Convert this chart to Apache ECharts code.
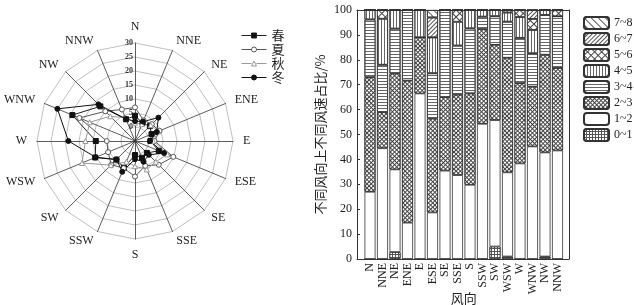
<!DOCTYPE html>
<html><head><meta charset="utf-8">
<script src="https://cdn.jsdelivr.net/npm/echarts@6/dist/echarts.min.js"></script>
<style>html,body{margin:0;padding:0;background:#fff}#c{width:634px;height:305px}</style>
</head><body><div id="c"></div>
<script>
// ---------- data ----------
const directions = ['N','NNE','NE','ENE','E','ESE','SE','SSE','S','SSW','SW','WSW','W','WNW','NW','NNW'];
const seasons = ['春','夏','秋','冬'];
// radar values (frequency, %), order N..NNW
const spring = [4.0, 2.0, 2.5, 1.4, 0.5, 4.2, 1.0, 1.5, 0.0, 5.3, 4.4, 10.4, 9.0, 19.2, 12.5, 3.4];
const summer = [7.0, 3.0, 3.5, 4.5, 2.0, 9.8, 7.0, 4.6, 7.7, 5.5, 7.0, 5.4, 5.1, 16.5, 10.0, 7.2];
const autumn = [1.5, 1.5, 3.0, 4.0, 1.5, 7.5, 5.5, 6.0, 4.0, 3.0, 7.2, 15.5, 12.7, 12.5, 7.5, 4.0];
const winter = [2.1, 2.5, 6.8, 3.4, 0.4, 6.2, 2.0, 3.0, 1.5, 6.9, 4.3, 10.2, 18.8, 25.0, 13.5, 3.5];
const radarMin = -5, radarMax = 30;
// stacked share of wind speed classes per direction (%)
const speedClasses = ['0~1','1~2','2~3','3~4','4~5','5~6','6~7','7~8'];
const s0_1 = [0, 0, 2.8, 0, 0, 0, 0, 0, 0, 0, 5, 1, 0, 0, 1, 0];
const s1_2 = [27, 44.5, 33.2, 14.6, 66.5, 18.7, 35.5, 33.7, 29.8, 54.3, 50.8, 33.8, 38.4, 45.2, 41.8, 43.6];
const s2_3 = [46, 14.5, 38.5, 57, 22.5, 37.7, 29.5, 32.3, 36.7, 38, 30.2, 46, 32.2, 24, 39.2, 33.1];
const s3_4 = [23.2, 19, 18, 28.4, 0, 18.2, 35, 19.7, 26.1, 5, 11.5, 14.5, 18.2, 13.4, 16, 20.8];
const s4_5 = [3.8, 18.5, 7.5, 0, 11, 14.4, 0, 9.6, 7.4, 2.7, 2.5, 3.7, 8.4, 9.4, 2, 0];
const s5_6 = [0, 3.5, 0, 0, 0, 0, 0, 4.7, 0, 0, 0, 1, 2.8, 4.4, 0, 2.5];
const s6_7 = [0, 0, 0, 0, 0, 8, 0, 0, 0, 0, 0, 0, 0, 3.6, 0, 0];
const s7_8 = [0, 0, 0, 0, 0, 3, 0, 0, 0, 0, 0, 0, 0, 0, 0, 0];

// ---------- build ----------
const shares = [s0_1, s1_2, s2_3, s3_4, s4_5, s5_6, s6_7, s7_8];
const seasonVals = [spring, summer, autumn, winter];
// radar runs counter-clockwise; reorder so directions go clockwise
const order = [0].concat(directions.map((d,i)=>i).slice(1).reverse());

const serif = 'Liberation Serif';
const cjk = 'Noto Sans CJK SC';

const fills = ['#555','#fff','#444','#fff','#fff','#444','#fff','#fff'];
const decals = [
  {symbol:'rect', symbolSize:1, color:'#fff', dashArrayX:[[2,1]], dashArrayY:[2,1]},
  null,
  {symbol:'rect', symbolSize:1, color:'#fff', dashArrayX:[[2,1]], dashArrayY:[2,1], rotation:Math.PI/4},
  {symbol:'rect', symbolSize:1, color:'#666', dashArrayX:[1,0], dashArrayY:[1,2]},
  {symbol:'rect', symbolSize:1, color:'#666', dashArrayX:[1,2], dashArrayY:[1,0]},
  {symbol:'rect', symbolSize:1, color:'#fff', dashArrayX:[[4,1]], dashArrayY:[4,1], rotation:Math.PI/4},
  {symbol:'rect', symbolSize:1, color:'#555', dashArrayX:[1,0], dashArrayY:[1,2], rotation:-Math.PI/4},
  {symbol:'rect', symbolSize:1, color:'#555', dashArrayX:[1,0], dashArrayY:[1,4], rotation:Math.PI/4}
];

const seasonStyle = [
  {symbol:'rect', size:5, fill:'#111', border:'#111', line:'#222',
   icon:'path://M0,2.5L10,2.5M10,0L15,0L15,5L10,5ZM15,2.5L25,2.5'},
  {symbol:'circle', size:5, fill:'#fff', border:'#555', line:'#555',
   icon:'path://M0,2.5L10,2.5M15,2.5A2.5,2.5,0,1,1,10,2.5A2.5,2.5,0,1,1,15,2.5ZM15,2.5L25,2.5'},
  {symbol:'triangle', size:5, fill:'#fff', border:'#999', line:'#9a9a9a',
   icon:'path://M0,2.5L10,2.5M10,5L12.5,0L15,5ZM15,2.5L25,2.5'},
  {symbol:'circle', size:5, fill:'#111', border:'#111', line:'#111',
   icon:'path://M0,2.5L10,2.5M15,2.5A2.5,2.5,0,1,1,10,2.5A2.5,2.5,0,1,1,15,2.5ZM15,2.5L25,2.5'}
];

const indicators = order.map(i => {
  const ind = {name: directions[i], min: radarMin, max: radarMax};
  if (i === 0) ind.axisLabel = {show:true, fontSize:8, fontWeight:'bold', color:'#333', fontFamily:serif, margin:2,
    formatter: v => v < 0 ? '' : String(v)};
  return ind;
});

const chart = echarts.init(document.getElementById('c'));
chart.setOption({
  animation:false,
  backgroundColor:'#fff',
  textStyle:{fontFamily:serif},
  radar:{
    center:[135,141], radius:98, startAngle:90, splitNumber:7, shape:'polygon',
    indicator: indicators,
    nameGap:10,
    axisName:{color:'#222', fontFamily:serif, fontSize:12},
    splitLine:{lineStyle:{color:'#b0b0b0', width:0.8}},
    splitArea:{show:false},
    axisLine:{lineStyle:{color:'#333', width:0.8}},
    axisTick:{show:false},
    axisLabel:{show:false}
  },
  legend:[
    {left:236, top:24, orient:'vertical', itemWidth:25, itemHeight:5, itemGap:1,
     data: seasons.map((s,k) => ({name:s, icon: seasonStyle[k].icon,
       itemStyle:{color: seasonStyle[k].fill, borderColor: seasonStyle[k].line, borderWidth:1}})),
     textStyle:{fontFamily:cjk, fontSize:13, color:'#222'}},
    {left:578, top:11, orient:'vertical', itemWidth:25, itemHeight:12, itemGap:2,
     data: speedClasses.slice().reverse(), textStyle:{fontFamily:serif, fontSize:12, color:'#222'}}
  ],
  grid:[
    {left:357, top:10, right:65, bottom:46, outerBoundsMode:'none', containLabel:false},
    {left:363.75, top:10, right:70.25, bottom:46, outerBoundsMode:'none', containLabel:false}
  ],
  xAxis:[
    {gridIndex:0, type:'value', min:0, max:1, position:'bottom',
     axisLine:{show:true, onZero:false, lineStyle:{color:'#333', width:1}},
     axisTick:{show:false}, axisLabel:{show:false}, splitLine:{show:false}},
    {gridIndex:0, type:'value', min:0, max:1, position:'top',
     axisLine:{show:true, onZero:false, lineStyle:{color:'#333', width:1}},
     axisTick:{show:false}, axisLabel:{show:false}, splitLine:{show:false}},
    {gridIndex:1, type:'category', data: directions, position:'bottom',
     name:'风向', nameLocation:'middle', nameGap:32.5, nameMoveOverlap:false,
     nameTextStyle:{fontFamily:cjk, fontSize:13, color:'#222', lineHeight:13},
     axisLine:{show:false},
     axisTick:{show:true, inside:true, length:3, alignWithLabel:true, lineStyle:{color:'#333'}},
     axisLabel:{rotate:90, fontSize:12, color:'#222', margin:4, fontFamily:serif, interval:0},
     splitLine:{show:false}}
  ],
  yAxis:[
    {gridIndex:0, type:'value', min:0, max:100, interval:10,
     name:'不同风向上不同风速占比/%', nameLocation:'middle', nameGap:30, nameRotate:90, nameMoveOverlap:false,
     nameTextStyle:{fontFamily:cjk, fontSize:13, color:'#222'},
     axisLine:{show:true, lineStyle:{color:'#333', width:1}},
     axisTick:{show:true, inside:true, length:3, lineStyle:{color:'#333'}},
     axisLabel:{fontSize:12, color:'#222', margin:5, fontFamily:serif},
     splitLine:{show:false}},
    {gridIndex:0, type:'value', min:0, max:100, position:'right',
     axisLine:{show:true, onZero:false, lineStyle:{color:'#333', width:1}},
     axisTick:{show:false}, axisLabel:{show:false}, splitLine:{show:false}},
    {gridIndex:1, type:'value', min:0, max:100, show:false}
  ],
  series:[
    {type:'radar', radarIndex:0, silent:true,
     data: seasons.map((s,k) => ({
       name:s,
       value: order.map(i => seasonVals[k][i]),
       symbol: seasonStyle[k].symbol, symbolSize: seasonStyle[k].size,
       itemStyle:{color: seasonStyle[k].fill, borderColor: seasonStyle[k].border, borderWidth:1},
       lineStyle:{color: seasonStyle[k].line, width:1}
     }))}
  ].concat(speedClasses.map((name,k) => {
    const st = {color: fills[k], borderColor:'#333', borderWidth:0.8};
    if (decals[k]) st.decal = decals[k];
    return {
      type:'bar', name, stack:'share', barWidth:11, xAxisIndex:2, yAxisIndex:2, silent:true,
      data: shares[k],
      itemStyle: st
    };
  }))
});
</script></body></html>
